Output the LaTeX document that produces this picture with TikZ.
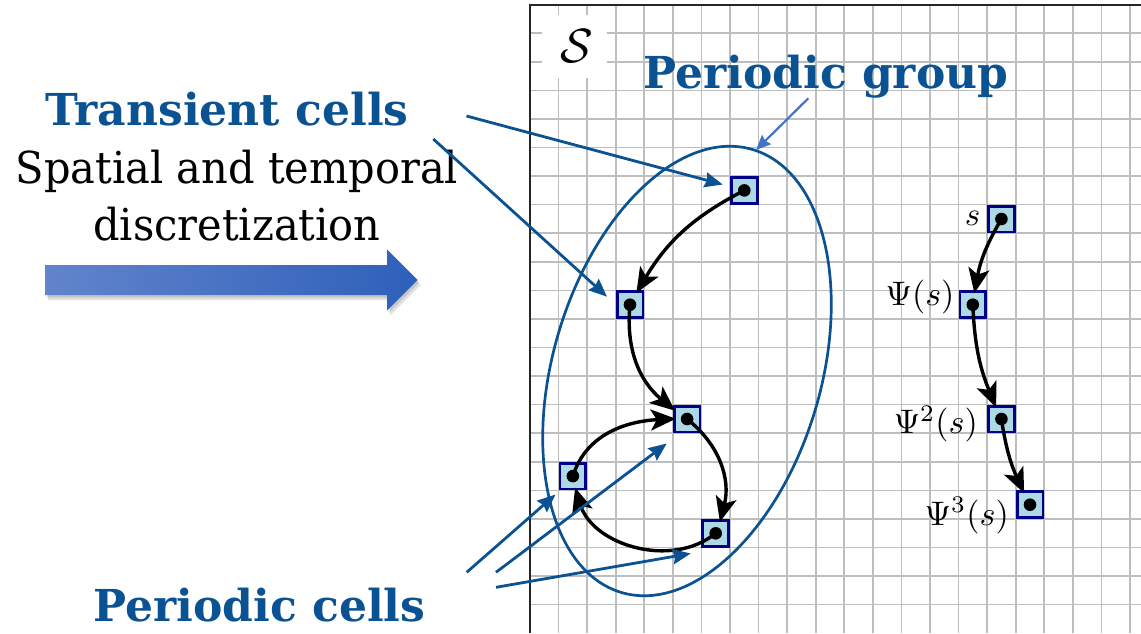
\documentclass[tikz,border=0pt]{standalone}
\usepackage{graphicx}
\usepackage[no-math]{fontspec}
\newfontfamily\geo{DejaVu Serif}
\usetikzlibrary{arrows.meta}
\definecolor{myblue}{RGB}{10,82,145}
\definecolor{lightarrow}{RGB}{68,114,196}
\definecolor{cellfill}{RGB}{173,216,230}
\definecolor{cellborder}{RGB}{0,0,139}
\definecolor{gridgray}{RGB}{190,190,190}
\definecolor{shadeL}{RGB}{98,132,204}
\definecolor{shadeR}{RGB}{46,96,186}
\begin{document}
\begin{tikzpicture}[x=1pt,y=-1pt,
  gridline/.style={draw=gridgray,line width=1.6pt},
  frameline/.style={draw=black!85,line width=2.4pt},
  cellbox/.style={draw=cellborder,fill=cellfill,line width=2.8pt,minimum size=25.8pt,inner sep=0pt},
  dotfill/.style={fill=black},
  flow/.style={draw=black,line width=3.4pt,shorten >=-3pt,-{Stealth[length=25pt,width=21pt,inset=6pt]}},
  pointer/.style={draw=myblue,line width=2.8pt,-{Stealth[length=18pt,width=15pt,inset=2pt]}},
  grouppointer/.style={draw=lightarrow,line width=2.2pt,-{Stealth[length=15pt,width=13pt,inset=2pt]}},
  titletext/.style={font=\fontsize{44}{44}\selectfont\geo\bfseries,text=myblue,inner sep=0pt,anchor=base west},
  plaintext/.style={font=\fontsize{44}{44}\selectfont\geo,text=black,inner sep=0pt,anchor=base},
  mathlabel/.style={inner sep=0pt,anchor=base},
]
\useasboundingbox (0,0) rectangle (1141,633);

% grid
\foreach \i in {1,...,21} {\draw[gridline] ({530+\i*28.57},4.7) -- ({530+\i*28.57},633);}
\foreach \j in {1,...,21} {\draw[gridline] (530,{4.7+\j*28.57}) -- (1141,{4.7+\j*28.57});}

% space label
\node[fill=white,minimum width=65pt,minimum height=63pt,inner sep=0pt] (S) at (574.2,46.5) {\hspace*{5pt}\scalebox{4.8}{$\mathcal{S}$}};

% frame
\draw[frameline] (530,633) -- (530,4.7) -- (1141,4.7);

% periodic group ellipse
\draw[myblue,line width=2.7pt,rotate around={73.5:(687,371)}] (687,371) ellipse [x radius=231pt, y radius=134pt];

% cells
\node[cellbox] (c1) at (744.3,190.4) {};
\node[cellbox] (c2) at (630.0,304.7) {};
\node[cellbox] (c3) at (687.1,419.0) {};
\node[cellbox] (c4) at (572.9,476.1) {};
\node[cellbox] (c5) at (715.7,533.3) {};
\node[cellbox] (r1) at (1001.4,219.0) {};
\node[cellbox] (r2) at (972.8,304.7) {};
\node[cellbox] (r3) at (1001.4,419.0) {};
\node[cellbox] (r4) at (1030.0,504.7) {};

% black flow arrows
\draw[flow] (c1.center) to[bend right=16] (c2);
\draw[flow] (c2.center) to[bend right=28] (c3);
\draw[flow] (c3.center) to[bend left=33] (c5);
\draw[flow] (c5.center) to[bend left=56] (c4);
\draw[flow] (c4.center) to[out=43,in=153,relative] (c3);
\draw[flow] (r1.center) to[bend right=10] (r2);
\draw[flow] (r2.center) to[bend right=10] (r3);
\draw[flow] (r3.center) to[bend right=8] (r4);

% dots
\foreach \c in {c1,c2,c3,c4,c5,r1,r2,r3,r4} {\fill[dotfill] (\c) circle[radius=6.3pt];}

% labels of the orbit
\node[mathlabel] (ls) at (972.5,225.5) {\scalebox{3.3}{$s$}};
\node[mathlabel] (l1) at (920.0,305.3) {\scalebox{3.4}{$\Psi(s)$}};
\node[mathlabel] (l2) at (935.8,433.7) {\scalebox{3.4}{$\Psi^2(s)$}};
\node[mathlabel] (l3) at (966.7,525.3) {\scalebox{3.4}{$\Psi^3(s)$}};

% texts
\node[titletext] (tc) at (45,125) {Transient cells};
\node[titletext] (pg) at (643.3,88.3) {Periodic group};
\node[titletext] (pc) at (93.3,621) {Periodic cells};
\node[plaintext] (sp1) at (237,183.3) {\scalebox{0.944}[1]{Spatial and temporal}};
\node[plaintext] (sp2) at (237,240.7) {\scalebox{0.944}[1]{discretization}};

% annotation pointers
\coordinate (ta) at (466.5,116);
\coordinate (tae) at (722.7,184.5);
\coordinate (tb) at (433.3,139);
\coordinate (tbe) at (607,296.7);
\coordinate (pa) at (466.7,572.3);
\coordinate (pae) at (555.5,494.5);
\coordinate (pb) at (496,572.3);
\coordinate (pbe) at (666.7,443.5);
\coordinate (pcs) at (496,587.3);
\coordinate (pce) at (690.7,553.5);
\coordinate (ga) at (808.3,98.3);
\coordinate (gae) at (756,150);
\draw[pointer] (ta) -- (tae);
\draw[pointer] (tb) -- (tbe);
\draw[pointer] (pa) -- (pae);
\draw[pointer] (pb) -- (pbe);
\draw[pointer] (pcs) -- (pce);
\draw[grouppointer] (ga) -- (gae);

% big discretization arrow
\fill[black,opacity=0.12] (48,270) -- (390,270) -- (390,254.3) -- (420.7,285) -- (390,315.7) -- (390,300) -- (48,300) -- cycle;
\fill[black,opacity=0.12] (46.5,267.5) -- (388.5,267.5) -- (388.5,251.8) -- (419.2,282.5) -- (388.5,313.2) -- (388.5,297.5) -- (46.5,297.5) -- cycle;
\shade[left color=shadeL,right color=shadeR] (45,265) -- (387,265) -- (387,249.3) -- (417.7,280) -- (387,310.7) -- (387,295) -- (45,295) -- cycle;
\end{tikzpicture}
\end{document}
